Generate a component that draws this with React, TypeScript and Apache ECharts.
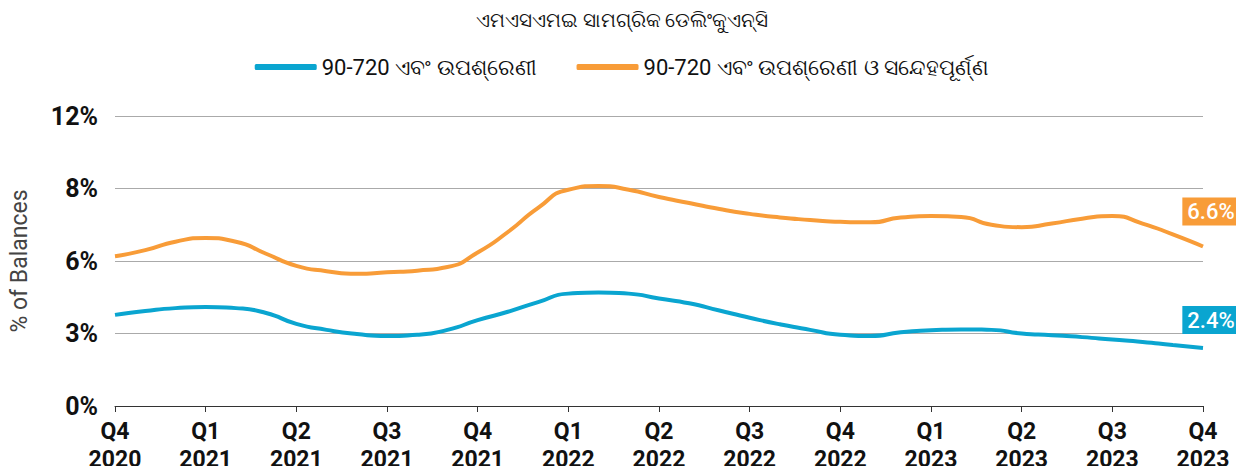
import React, { useEffect, useRef } from "react";
import * as echarts from "echarts";

const title = "ଏମଏସଏମଇ ସାମଗ୍ରିକ ଡେଲିଂକୁଏନ୍ସି";
const seriesNames = ["90-720 ଏବଂ ଉପଶ୍ରେଣୀ", "90-720 ଏବଂ ଉପଶ୍ରେଣୀ ଓ ସନ୍ଦେହପୂର୍ଣ୍ଣ"];

const quarterLabels = [
  "Q4\n2020", "Q1\n2021", "Q2\n2021", "Q3\n2021", "Q4\n2021", "Q1\n2022", "Q2\n2022",
  "Q3\n2022", "Q4\n2022", "Q1\n2023", "Q2\n2023", "Q3\n2023", "Q4\n2023",
];

// monthly points, quarter label on every third
const months: string[] = [];
quarterLabels.forEach((q, i) => {
  months.push(q);
  if (i < quarterLabels.length - 1) {
    months.push(q + "-m1");
    months.push(q + "-m2");
  }
});

const blueValues = [
  3.77, 3.93, 4.05, 4.1, 4.05, 3.85, 3.4, 3.15, 2.98, 2.9, 2.95, 3.15, 3.55,
  3.9, 4.3, 4.65, 4.7, 4.65, 4.45, 4.25, 3.95, 3.65, 3.38, 3.15, 2.95, 2.9,
  3.05, 3.13, 3.17, 3.15, 3.0, 2.93, 2.85, 2.75, 2.65, 2.52, 2.4,
];
const orangeValues = [
  6.2, 6.45, 6.8, 6.95, 6.8, 6.3, 5.8, 5.58, 5.47, 5.53, 5.6, 5.75, 6.35,
  7.2, 8.2, 8.95, 9.1, 8.95, 8.65, 8.4, 8.15, 7.95, 7.8, 7.7, 7.62, 7.6,
  7.8, 7.86, 7.82, 7.5, 7.4, 7.55, 7.75, 7.86, 7.55, 7.1, 6.6,
];
const endLabels = ["2.4%", "6.6%"];

const yTicks = [0, 3, 6, 9, 12];
const yTickLabels = ["0%", "3%", "6%", "8%", "12%"];

const BLUE = "#0aa5d0";
const ORANGE = "#f89c38";

export default function App() {
  const ref = useRef<HTMLDivElement>(null);
  useEffect(() => {
    const chart = echarts.init(ref.current!, null, { renderer: "svg" });
    const font = "Roboto, 'Noto Sans', sans-serif";
    const mk = (name: string, data: number[], color: string, label: string, dy: number) => ({
      name,
      type: "line",
      data,
      smooth: 0.6,
      symbol: "none",
      lineStyle: { color, width: 4 },
      itemStyle: { color },
      markPoint: {
        symbol: "rect",
        symbolSize: 0,
        data: [{ coord: [months.length - 1, data[data.length - 1]] }],
        label: {
          show: true,
          formatter: label,
          color: "#fff",
          fontFamily: font,
          fontSize: 22,
          fontWeight: 500,
          backgroundColor: color,
          padding: [4, 5, 2, 5],
          position: "inside",
          offset: [8, dy],
        },
      },
    });
    chart.setOption({
      animation: false,
      title: {
        text: title,
        left: "center",
        top: 5,
        textStyle: { fontFamily: font, fontSize: 20, fontWeight: "normal", color: "#111" },
      },
      legend: {
        top: 51,
        left: "center",
        itemWidth: 62,
        itemHeight: 6,
        itemGap: 40,
        icon: "roundRect",
        textStyle: { fontFamily: font, fontSize: 22, color: "#111" },
      },
      grid: { left: 113, right: 41, top: 116, bottom: 68 },
      xAxis: {
        type: "category",
        data: months,
        boundaryGap: false,
        axisLine: { lineStyle: { color: "#333", width: 1 } },
        axisTick: {
          interval: (i: number) => i % 3 === 0,
          length: 6,
          lineStyle: { color: "#333" },
        },
        axisLabel: {
          interval: (i: number) => i % 3 === 0,
          fontFamily: font,
          fontSize: 23,
          fontWeight: "bold",
          color: "#111",
          lineHeight: 28,
          margin: 11,
        },
      },
      yAxis: {
        type: "value",
        min: 0,
        max: 12,
        interval: 3,
        name: "% of Balances",
        nameLocation: "middle",
        nameGap: 84,
        nameTextStyle: { fontFamily: font, fontSize: 23, color: "#444" },
        axisLine: { show: false },
        axisTick: { show: false },
        splitLine: { lineStyle: { color: "#aaa", width: 1 } },
        axisLabel: {
          fontFamily: font,
          fontSize: 25,
          fontWeight: "bold",
          color: "#111",
          margin: 17,
          formatter: (v: number) => yTickLabels[yTicks.indexOf(v)] ?? "",
        },
      },
      series: [
        mk(seriesNames[0], blueValues, BLUE, endLabels[0], -28),
        mk(seriesNames[1], orangeValues, ORANGE, endLabels[1], -35),
      ],
    });
    return () => chart.dispose();
  }, []);
  return <div ref={ref} style={{ width: 1244, height: 474, margin: -8 }} />;
}
